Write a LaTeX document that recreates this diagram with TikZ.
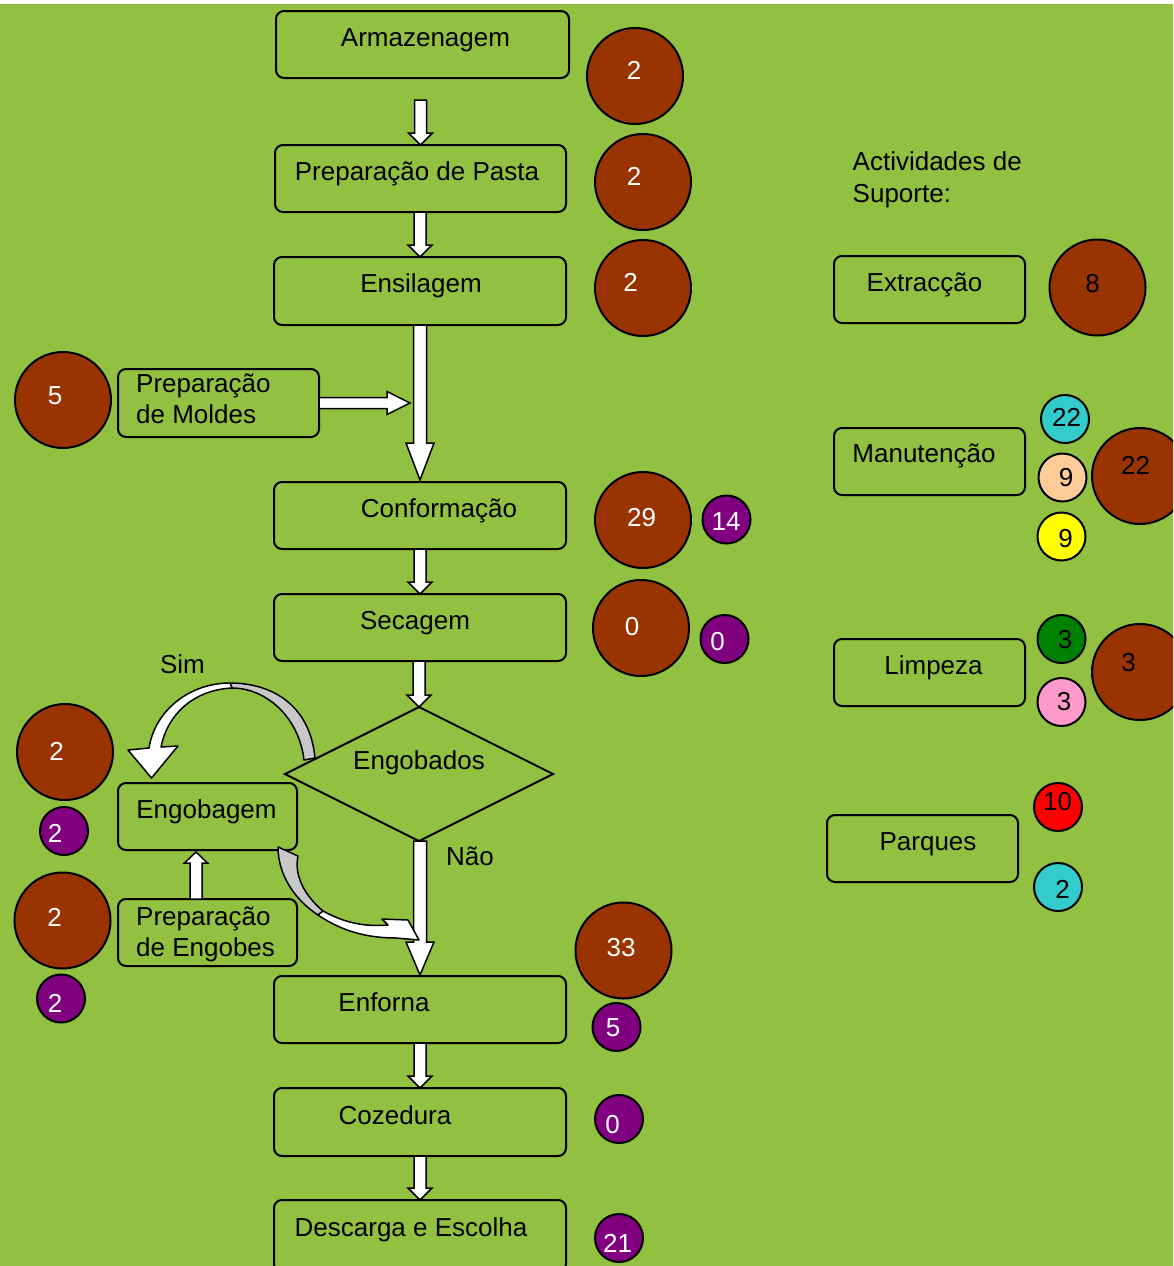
\documentclass[tikz,border=0pt]{standalone}
\usepackage{fontspec}
\setmainfont{Liberation Sans}
\usetikzlibrary{calc,shapes.geometric}
\definecolor{bg}{RGB}{146,192,64}
\definecolor{brn}{RGB}{153,51,0}
\definecolor{pur}{RGB}{128,0,128}
\definecolor{cya}{RGB}{51,204,204}
\definecolor{pch}{RGB}{255,204,153}
\definecolor{yel}{RGB}{255,255,0}
\definecolor{dgr}{RGB}{0,128,0}
\definecolor{pnk}{RGB}{255,153,204}
\definecolor{rd}{RGB}{255,0,0}
\definecolor{gry}{RGB}{200,200,200}
\newcommand{\blkdown}[5]{\draw[blk] let \p1=#1,\p2=#2 in (\x2-#3,\y1) -- (\x2-#3,\y2+#5) -- (\x2-#4,\y2+#5) -- (\x2,\y2) -- (\x2+#4,\y2+#5) -- (\x2+#3,\y2+#5) -- (\x2+#3,\y1) -- cycle;}
\newcommand{\blkup}[5]{\draw[blk] let \p1=#1,\p2=#2 in (\x2-#3,\y1) -- (\x2-#3,\y2-#5) -- (\x2-#4,\y2-#5) -- (\x2,\y2) -- (\x2+#4,\y2-#5) -- (\x2+#3,\y2-#5) -- (\x2+#3,\y1) -- cycle;}
\newcommand{\blkright}[5]{\draw[blk] let \p1=#1,\p2=#2 in (\x1,\y2+#3) -- (\x2-#5,\y2+#3) -- (\x2-#5,\y2+#4) -- (\x2,\y2) -- (\x2-#5,\y2-#4) -- (\x2-#5,\y2-#3) -- (\x1,\y2-#3) -- cycle;}
\begin{document}
\begin{tikzpicture}[x=1pt,y=-1pt,
  box/.style={draw=black,line width=2pt,rounded corners=8pt,rectangle,inner sep=0pt,outer sep=0pt,anchor=north west},
  dia/.style={draw=black,line width=2pt,diamond,inner sep=0pt,outer sep=0pt,minimum width=268pt,minimum height=134pt},
  blk/.style={draw=black,line width=1.5pt,fill=white,line join=miter},
  rib/.style={draw=black,line width=1.5pt,line join=round},
  circ/.style={draw=black,line width=2pt,circle,inner sep=0pt,outer sep=0pt},
  big/.style={circ,fill=brn,minimum size=96pt},
  sml/.style={circ,minimum size=48pt},
  lbl/.style={anchor=base,inner sep=0pt,font=\fontsize{26}{31}\selectfont},
  lbll/.style={lbl,anchor=base west},
  wnum/.style={lbl,text=white},
  bnum/.style={lbl,text=black}]
\useasboundingbox (0,0) rectangle (1173,1266);
\clip (0,0) rectangle (1173,1266);
\fill[white] (0,0) rectangle (1173,1266);
\fill[bg] (0,4) rectangle (1173,1266);

% process boxes
\node[box,minimum width=293pt,minimum height=67pt] (arm) at (276,11) {};
\node[box,minimum width=291pt,minimum height=67pt] (pasta) at (275,145) {};
\node[box,minimum width=292pt,minimum height=68pt] (ens) at (274,257) {};
\node[box,minimum width=201pt,minimum height=68pt] (mold) at (118,369) {};
\node[box,minimum width=292pt,minimum height=67pt] (conf) at (274,482) {};
\node[box,minimum width=292pt,minimum height=67pt] (sec) at (274,594) {};
\node[dia] (dg) at (419,774) {};
\node[box,minimum width=179pt,minimum height=67pt] (engob) at (118,783) {};
\node[box,minimum width=179pt,minimum height=67pt] (engobes) at (118,899) {};
\node[box,minimum width=292pt,minimum height=67pt] (enf) at (274,976) {};
\node[box,minimum width=292pt,minimum height=68pt] (coz) at (274,1088) {};
\node[box,minimum width=292pt,minimum height=72pt] (desc) at (274,1200) {};
\node[box,minimum width=191pt,minimum height=67pt] (extr) at (834,256) {};
\node[box,minimum width=191pt,minimum height=67pt] (manut) at (834,428) {};
\node[box,minimum width=191pt,minimum height=67pt] (limp) at (834,639) {};
\node[box,minimum width=191pt,minimum height=67pt] (parq) at (827,815) {};

% block arrows
\blkdown{($(arm.south)+(0,22)$)}{(pasta.north)}{6pt}{12pt}{12pt}
\blkdown{(pasta.south)}{(ens.north)}{6pt}{12pt}{12pt}
\blkdown{(ens.south)}{($(conf.north)+(0,-2)$)}{6.5pt}{14pt}{37pt}
\blkright{(mold.east)}{($(ens.south |- mold.east)+(-10,0)$)}{5.5pt}{11.5pt}{23pt}
\blkdown{(conf.south)}{(sec.north)}{6pt}{12pt}{12pt}
\blkdown{(sec.south)}{(dg.north)}{6pt}{12pt}{12pt}
\blkdown{(dg.south)}{($(enf.north)+(0,-1)$)}{6.5pt}{14pt}{33pt}
\blkdown{(enf.south)}{(coz.north)}{6pt}{12pt}{12pt}
\blkdown{(coz.south)}{(desc.north)}{6pt}{12pt}{12pt}
\blkup{($(engobes.north)+(-11.5,0)$)}{($(engob.south)+(-11.5,2)$)}{6pt}{11.5pt}{11pt}

% curved arrow "Sim" (from decision to Engobagem)
\coordinate (simA) at ($(dg.west)+(30,-16)$);
\coordinate (simB) at ($(engob.north)+(-56,-5)$);
\filldraw[rib,fill=gry] (230,683) .. controls (272,683) and (310,705) .. (simA) -- ++(-11,2) .. controls (299,717) and (266,688) .. (232,688) -- cycle;
\filldraw[rib,fill=white] (230,683) .. controls (190,683) and (155,710) .. (149,748) -- (128,750) -- (simB) -- (178,746) -- (161,747) .. controls (167,716) and (192,690) .. (232,688) -- cycle;

% curved arrow from Engobagem to main line
\coordinate (naoA) at ($(engob.south east)+(-19,-3)$);
\coordinate (naoB) at ($(dg.south |- enf.north)+(0,-36)$);
\filldraw[rib,fill=gry] (naoA) .. controls (278,875) and (295,900) .. (318,915) -- (323,911) .. controls (304,895) and (294,875) .. (298,856) -- cycle;
\filldraw[rib,fill=white] (323,911) .. controls (345,923) and (365,927) .. (388,925) -- (382,919) -- (408,920) -- (naoB) -- (396,938) .. controls (365,938) and (340,930) .. (318,915) -- cycle;

% circles
\node[big] (c1) at (635,76) {};
\node[big] (c2) at (643,182) {};
\node[big] (c3) at (643,288) {};
\node[big] (c4) at (63,400) {};
\node[big] (c5) at (643,520) {};
\node[sml,fill=pur] (p5) at (726.5,519.5) {};
\node[big] (c6) at (641,628) {};
\node[sml,fill=pur] (p6) at (724.5,639) {};
\node[big] (c7) at (65,752) {};
\node[sml,fill=pur] (p7) at (64,831) {};
\node[big] (c8) at (62.5,920.5) {};
\node[sml,fill=pur] (p8) at (61,998.5) {};
\node[big] (c9) at (623.5,950.5) {};
\node[sml,fill=pur] (p9) at (616.5,1027) {};
\node[sml,fill=pur] (p10) at (619,1119) {};
\node[sml,fill=pur] (p11) at (619,1238) {};
\node[big] (c12) at (1097.5,287.5) {};
\node[sml,fill=cya] (s1) at (1065,419) {};
\node[sml,fill=pch] (s2) at (1062.5,477.5) {};
\node[sml,fill=yel] (s3) at (1061.5,536.5) {};
\node[big] (c13) at (1140,476) {};
\node[sml,fill=dgr] (s4) at (1061.5,639) {};
\node[sml,fill=pnk] (s5) at (1061.5,702) {};
\node[big] (c14) at (1140,672) {};
\node[sml,fill=rd] (s6) at (1058,807) {};
\node[sml,fill=cya] (s7) at (1058,887) {};

% box texts
\node[lbl] (tArm) at (425.5,46) {Armazenagem};
\node[lbl] (tPasta) at (417,180) {Preparação de Pasta};
\node[lbl] (tEns) at (421,292) {Ensilagem};
\node[lbll] (tMold1) at (136,392) {Preparação};
\node[lbll] (tMold2) at (136,423) {de Moldes};
\node[lbl] (tConf) at (439,517) {Conformação};
\node[lbl] (tSec) at (415,629) {Secagem};
\node[lbl] (tDg) at (419,769) {Engobados};
\node[lbl] (tSim) at (182.5,673) {Sim};
\node[lbl] (tEngob) at (206.5,818) {Engobagem};
\node[lbl] (tNao) at (470,865) {Não};
\node[lbll] (tEngobes1) at (136,925) {Preparação};
\node[lbll] (tEngobes2) at (136,956) {de Engobes};
\node[lbl] (tEnf) at (384,1011) {Enforna};
\node[lbl] (tCoz) at (395,1124) {Cozedura};
\node[lbl] (tDesc) at (411,1236) {Descarga e Escolha};
\node[lbll] (tAct1) at (852.5,170.5) {Actividades de};
\node[lbll] (tAct2) at (852.5,202.5) {Suporte:};
\node[lbl] (tExtr) at (924.5,291) {Extracção};
\node[lbl] (tManut) at (924,462.5) {Manutenção};
\node[lbl] (tLimp) at (933.5,674.5) {Limpeza};
\node[lbl] (tParq) at (928,850) {Parques};

% numbers
\node[wnum] (n1) at (634,79) {2};
\node[wnum] (n2) at (634,185.5) {2};
\node[wnum] (n3) at (630.5,291.5) {2};
\node[wnum] (n4) at (55,404) {5};
\node[wnum] (n5) at (641.5,526.5) {29};
\node[wnum] (n5b) at (726,530.5) {14};
\node[wnum] (n6) at (632,635) {0};
\node[wnum] (n6b) at (717.5,650.5) {0};
\node[wnum] (n7) at (56.5,760.5) {2};
\node[wnum] (n7b) at (55,842.5) {2};
\node[wnum] (n8) at (54.5,926) {2};
\node[wnum] (n8b) at (55,1012.5) {2};
\node[wnum] (n9) at (621,956) {33};
\node[wnum] (n9b) at (613,1036) {5};
\node[wnum] (n10) at (612.5,1133) {0};
\node[wnum] (n11) at (617.5,1252) {21};
\node[bnum] (n12) at (1092.5,292.5) {8};
\node[bnum] (ns1) at (1066.5,426.5) {22};
\node[bnum] (ns2) at (1066,486.5) {9};
\node[bnum] (ns3) at (1065.5,547) {9};
\node[bnum] (n13) at (1135.5,474.5) {22};
\node[bnum] (ns4) at (1065,648) {3};
\node[bnum] (ns5) at (1064,710.5) {3};
\node[bnum] (n14) at (1128.5,671) {3};
\node[bnum] (ns6) at (1057.5,810.5) {10};
\node[bnum] (ns7) at (1062.5,898) {2};
\end{tikzpicture}
\end{document}
